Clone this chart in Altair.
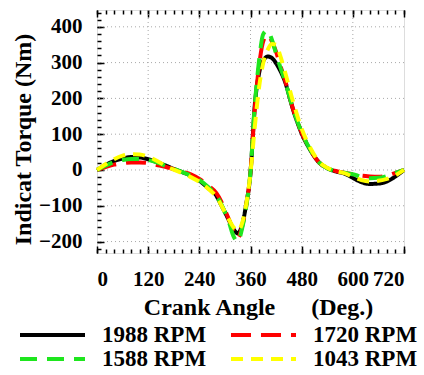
import altair as alt
import pandas as pd

angles = [0, 20, 40, 60, 80, 100, 120, 140, 160, 180, 200, 220, 240, 260, 280, 290, 300, 310,
          320, 330, 340, 350, 360, 370, 380, 390, 400, 410, 420, 430, 440, 460, 480, 500, 520,
          540, 560, 580, 600, 620, 640, 660, 680, 700, 720]

rpm_1988 = [0, 14, 25, 32, 36, 35, 30, 22, 13, 3, -6, -16, -30, -50, -72, -95, -118, -142,
            -165, -177, -155, -95, -8, 180, 270, 305, 317, 313, 298, 277, 250, 168, 102, 56, 22,
            5, -4, -10, -22, -34, -39, -38, -32, -18, 0]
rpm_1720 = [0, 8, 15, 19, 21, 21, 19, 14, 9, 2, -5, -12, -25, -43, -65, -85, -112, -140,
            -170, -190, -160, -100, -5, 170, 290, 360, 377, 360, 330, 292, 255, 170, 105, 57, 22,
            5, -3, -8, -12, -16, -18, -19, -16, -8, 0]
rpm_1588 = [0, 12, 22, 28, 31, 31, 28, 21, 12, 3, -6, -16, -28, -47, -72, -92, -118, -148,
            -185, -200, -165, -102, -5, 180, 305, 380, 390, 365, 325, 287, 252, 170, 105, 57, 22,
            5, -3, -8, -12, -19, -23, -22, -17, -8, 0]
rpm_1043 = [0, 16, 30, 40, 44, 43, 37, 26, 12, 1, -9, -20, -33, -52, -75, -95, -118, -140,
            -160, -170, -150, -95, -8, 120, 230, 300, 335, 352, 350, 318, 278, 190, 115, 62, 24,
            6, -3, -9, -19, -28, -32, -30, -25, -15, 0]

series_labels = ["1988 RPM", "1720 RPM", "1588 RPM", "1043 RPM"]
# legend fills column by column: this order puts 1988/1720 on row 1, 1588/1043 on row 2
legend_order = ["1988 RPM", "1588 RPM", "1720 RPM", "1043 RPM"]
series_colors = {"1988 RPM": "#000000", "1720 RPM": "#ff0000", "1588 RPM": "#1ee61e", "1043 RPM": "#ffff00"}
series_dashes = {"1988 RPM": [1, 0], "1720 RPM": [20, 10], "1588 RPM": [17, 10], "1043 RPM": [12, 8]}

x_major = [0, 120, 240, 360, 480, 600, 720]
x_grid = [120, 240, 360, 480, 600]
x_minor = list(range(0, 721, 20))
y_major = [-200, -100, 0, 100, 200, 300, 400]
y_minor = list(range(-220, 441, 20))

rows = []
for name, vals in zip(series_labels, [rpm_1988, rpm_1720, rpm_1588, rpm_1043]):
    for a, v in zip(angles, vals):
        rows.append({"angle": a, "torque": v, "series": name})
df = pd.DataFrame(rows)

FONT = "Liberation Serif"
GRID = "#a8a8a8"
xs = alt.Scale(domain=[0, 720], nice=False, zero=False)
ys = alt.Scale(domain=[-232, 447], nice=False, zero=False)

leg = alt.Legend(
    title=None, orient="none", legendX=-79, legendY=313, columns=2,
    symbolType="M-1,0H5.5", symbolSize=400, symbolStrokeWidth=4,
    labelFont=FONT, labelFontSize=23, labelFontWeight="bold", labelColor="black",
    labelOffset=60, columnPadding=16, rowPadding=0, padding=0, labelLimit=300,
)

vgrid = alt.Chart(pd.DataFrame({"angle": x_grid})).mark_rule(
    color=GRID, strokeWidth=1, strokeDash=[1, 3]
).encode(x=alt.X("angle:Q", scale=xs, axis=None))

hgrid = alt.Chart(pd.DataFrame({"torque": y_major})).mark_rule(
    color=GRID, strokeWidth=1, strokeDash=[1, 3]
).encode(y=alt.Y("torque:Q", scale=ys, axis=None))

lines = alt.Chart(df).mark_line(strokeWidth=4, interpolate="monotone").encode(
    x=alt.X("angle:Q", scale=xs, axis=alt.Axis(
        orient="bottom", values=x_major, tickSize=7, offset=-7, domain=False, grid=False,
        tickColor="black", tickWidth=1.5, labelFont=FONT, labelFontSize=21,
        labelFontWeight="bold", labelColor="black", labelPadding=15,
        title="Crank Angle\u00a0\u00a0\u00a0\u00a0\u00a0\u00a0(Deg.)",
        titleFont=FONT, titleFontSize=24, titleFontWeight="bold", titleColor="black",
        titleX=161, titleY=61, titleBaseline="middle")),
    y=alt.Y("torque:Q", scale=ys, axis=alt.Axis(
        orient="left", values=y_major, tickSize=7, offset=-7, domain=False, grid=False,
        tickColor="black", tickWidth=1.5, labelFont=FONT, labelFontSize=21,
        labelFontWeight="bold", labelColor="black", labelPadding=15,
        title="Indicat Torque (Nm)", titleFont=FONT, titleFontSize=24,
        titleFontWeight="bold", titleColor="black", titleX=-81, titleY=129,
        titleBaseline="middle", titleAngle=270)),
    color=alt.Color("series:N", scale=alt.Scale(domain=legend_order, range=[series_colors[s] for s in legend_order]), legend=leg),
    strokeDash=alt.StrokeDash("series:N", scale=alt.Scale(domain=legend_order, range=[series_dashes[s] for s in legend_order]), legend=leg),
)

ghost = alt.Chart(df).mark_point(opacity=0, size=1)

minor_bl = ghost.encode(
    x=alt.X("angle:Q", scale=xs, axis=alt.Axis(orient="bottom", values=x_minor, tickSize=4, offset=-4, domain=False,
        grid=False, labels=False, title=None, tickColor="black", tickWidth=1.5)),
    y=alt.Y("torque:Q", scale=ys, axis=alt.Axis(orient="left", values=y_minor, tickSize=4, offset=-4, domain=False,
        grid=False, labels=False, title=None, tickColor="black", tickWidth=1.5)),
)

minor_top = ghost.encode(
    x=alt.X("angle:Q", scale=xs, axis=alt.Axis(orient="top", values=x_minor, tickSize=4, offset=-4,
        domain=False, grid=False, labels=False, title=None, tickColor="black", tickWidth=1.5)),
    y=alt.Y("torque:Q", scale=ys, axis=None),
)

major_top = ghost.encode(
    x=alt.X("angle:Q", scale=xs, axis=alt.Axis(orient="top", values=x_major, tickSize=7, offset=-7,
        domain=False, grid=False, labels=False, title=None, tickColor="black", tickWidth=1.5)),
    y=alt.Y("torque:Q", scale=ys, axis=None),
)

chart = alt.layer(vgrid, hgrid, minor_top, major_top, minor_bl, lines).resolve_axis(
    x="independent", y="independent"
).properties(
    width=307, height=243,
    autosize=alt.AutoSizeParams(type="none"),
    padding={"left": 97, "top": 10, "right": 20, "bottom": 122},
).configure_view(stroke="black", strokeWidth=1.5).configure(background="white")

chart.save("out.html", embed_options={"renderer": "svg", "actions": False})
